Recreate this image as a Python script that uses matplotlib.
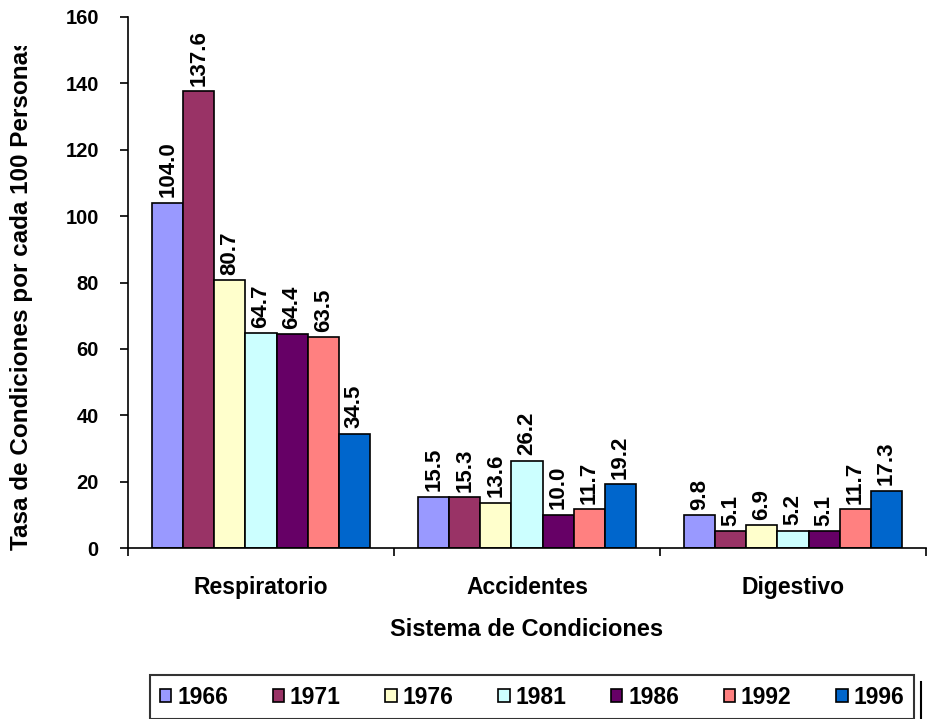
import numpy as np
import matplotlib.pyplot as plt
from matplotlib.patches import Patch
from matplotlib.lines import Line2D
from matplotlib.transforms import Bbox

plt.rcParams['font.family'] = ['Liberation Sans', 'DejaVu Sans']
plt.rcParams['font.weight'] = 'bold'

categorias = ['Respiratorio', 'Accidentes', 'Digestivo']
anios = ['1966', '1971', '1976', '1981', '1986', '1992', '1996']
valores = [
    [104.0, 15.5, 9.8],   # 1966
    [137.6, 15.3, 5.1],   # 1971
    [80.7, 13.6, 6.9],    # 1976
    [64.7, 26.2, 5.2],    # 1981
    [64.4, 10.0, 5.1],    # 1986
    [63.5, 11.7, 11.7],   # 1992
    [34.5, 19.2, 17.3],   # 1996
]
colores = ['#9999FF', '#993366', '#FFFFCC', '#CCFFFF', '#660066', '#FF8080', '#0066CC']

fig = plt.figure(figsize=(9.29, 7.19), dpi=100)
ax = fig.add_axes([128/929, 1-548/719, (926-128)/929, (548-17)/719])

x = np.arange(len(categorias))
ancho = 0.117
n = len(anios)
for i in range(n):
    pos = x + (i - (n-1)/2) * ancho
    barras = ax.bar(pos, valores[i], ancho, color=colores[i], edgecolor='black', linewidth=1.2, label=anios[i])
    for b, v in zip(barras, valores[i]):
        ax.annotate('%.1f' % v, (b.get_x() + b.get_width()/2, v), xytext=(0, 4),
                    textcoords='offset points', rotation=90, ha='center', va='bottom',
                    fontsize=16, fontweight='bold')

ax.set_xlim(-0.5, 2.5)
ax.set_ylim(0, 160)
ax.set_yticks(range(0, 161, 20))
ax.set_xticks([-0.5, 0.5, 1.5, 2.5])
ax.set_xticklabels([])
ax.set_xticks(x, minor=True)
ax.set_xticklabels(categorias, minor=True, fontsize=16.5, fontweight='bold')
ax.tick_params(axis='x', which='minor', length=0, pad=20)
ax.tick_params(axis='x', which='major', length=6, width=1.2, direction='out')
ax.tick_params(axis='y', length=6, width=1.2, labelsize=14.5, pad=15)
for s in ['top', 'right']:
    ax.spines[s].set_visible(False)
for s in ['left', 'bottom']:
    ax.spines[s].set_linewidth(1.2)

ax.set_xlabel('Sistema de Condiciones', fontsize=17, fontweight='bold', labelpad=14)

# titulo del eje y, recortado arriba como en el original
ylab = fig.text(22/929, 1-550/719, 'Tasa de Condiciones por cada 100 Personas', rotation=90,
                ha='center', va='bottom', fontsize=17.5, fontweight='bold')
ylab.set_clip_box(Bbox([[0, 0], [929, 719-46]]))
ylab.set_clip_on(True)

handles = [Patch(facecolor=c, edgecolor='black', linewidth=1.2) for c in colores]
leg = fig.legend(handles, anios, loc='center', bbox_to_anchor=(532/929, 1-697/719), ncol=7,
                 frameon=True, fancybox=False, edgecolor='black', fontsize=16.5,
                 handlelength=0.5, handleheight=0.5, handletextpad=0.25, columnspacing=1.95,
                 borderpad=0.45, borderaxespad=0)
leg.get_frame().set_linewidth(1.5)
# sombra del recuadro de la leyenda
fig.add_artist(Line2D([921/929, 921/929], [0, 1-682/719], color='black', linewidth=1.5))

fig.savefig('out.png', dpi=100)
